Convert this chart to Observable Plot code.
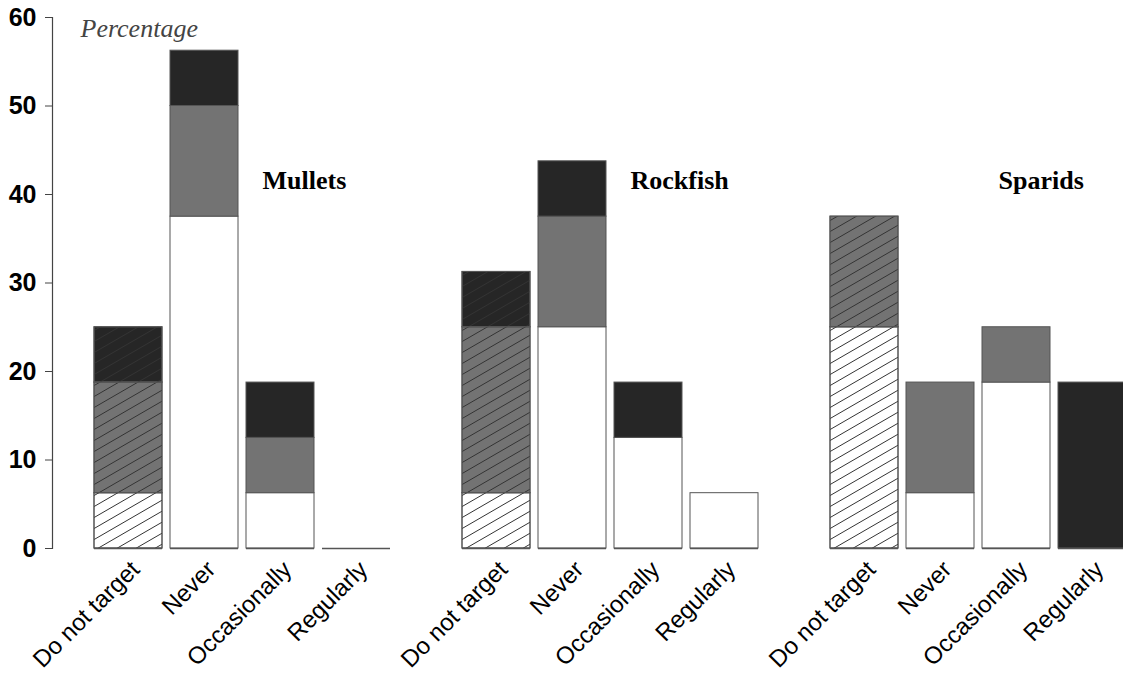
<!DOCTYPE html>
<html>
<head>
<meta charset="utf-8">
<script src="https://cdn.jsdelivr.net/npm/d3@7"></script>
<script src="https://cdn.jsdelivr.net/npm/@observablehq/plot@0.6"></script>
<style>
  html, body { margin: 0; padding: 0; background: #fff; overflow: hidden; }
</style>
</head>
<body>
<div id="chart"></div>
<script>
// ---- data (percentages) ----
const groups = ["Mullets", "Rockfish", "Sparids"];
const categories = ["Do not target", "Never", "Occasionally", "Regularly"];
const levels = ["White", "Grey", "Dark"];
const yTicks = [0, 10, 20, 30, 40, 50, 60];
const yLabel = "Percentage";

// segment sizes per category (Do not target, Never, Occasionally, Regularly)
const mulletsWhite  = [6.25, 37.5, 6.25, 0];
const mulletsGrey   = [12.5, 12.5, 6.25, 0];
const mulletsDark   = [6.25, 6.25, 6.25, 0];
const rockfishWhite = [6.25, 25, 12.5, 6.25];
const rockfishGrey  = [18.75, 12.5, 0, 0];
const rockfishDark  = [6.25, 6.25, 6.25, 0];
const sparidsWhite  = [25, 6.25, 18.75, 0];
const sparidsGrey   = [12.5, 12.5, 6.25, 0];
const sparidsDark   = [0, 0, 0, 18.75];

const levelColors = ["#ffffff", "#737373", "#262626"];

const series = [
  [mulletsWhite, mulletsGrey, mulletsDark],
  [rockfishWhite, rockfishGrey, rockfishDark],
  [sparidsWhite, sparidsGrey, sparidsDark]
];

const rows = [];
groups.forEach((g, gi) => categories.forEach((c, ci) => levels.forEach((lv, li) => {
  rows.push({group: g, category: c, level: lv, value: series[gi][li][ci]});
})));
const bars = [];
groups.forEach(g => categories.forEach(c => bars.push({group: g, category: c})));

const chart = Plot.plot({
  width: 1156,
  height: 684,
  marginTop: 17,
  marginBottom: 136,
  marginLeft: 52,
  marginRight: 0,
  style: {fontFamily: "'Liberation Sans', Arial, sans-serif", maxWidth: "none", background: "#fff", color: "#000"},
  fx: {domain: groups, padding: 0, axis: null},
  x: {domain: categories, paddingInner: 0.1, paddingOuter: 0.455, align: 0.59},
  y: {domain: [0, 60]},
  color: {domain: levels, range: levelColors},
  marks: [
    Plot.barY(rows, {fx: "group", x: "category", y: "value", fill: "level", stroke: "#555", strokeWidth: 1}),
    Plot.barY(rows.filter(d => d.category === categories[0]), {fx: "group", x: "category", y: "value", fill: "url(#hatch)", stroke: "#555", strokeWidth: 1}),
    Plot.tickY(bars, {fx: "group", x: "category", y: () => 0, stroke: "#555", strokeWidth: 1.5}),
    Plot.frame({anchor: "left", facetAnchor: "left", stroke: "#444", strokeWidth: 1.2}),
    Plot.axisY({ticks: yTicks, tickSize: 7, tickPadding: 9, fontSize: 25, fontWeight: "bold", label: null, stroke: "#444"}),
    Plot.axisX({tickRotate: -45, tickSize: 0, tickPadding: 14, fontSize: 24, label: null, dx: 7, dy: 3}),
    Plot.text(groups, {fx: d => d, text: d => d, frameAnchor: "top-left", dx: 210, dy: 153, textAnchor: "start",
      fontFamily: "'Liberation Serif', 'Times New Roman', serif", fontWeight: "bold", fontSize: 26}),
    Plot.text([yLabel], {fx: () => groups[0], text: d => d, frameAnchor: "top-left", dx: 28, dy: 1, textAnchor: "start",
      fontFamily: "'Liberation Serif', 'Times New Roman', serif", fontStyle: "italic", fontSize: 26, fill: "#444"})
  ]
});

// hatch pattern for "Do not target"
const svgNS = "http://www.w3.org/2000/svg";
const defs = document.createElementNS(svgNS, "defs");
defs.innerHTML = `<pattern id="hatch" patternUnits="userSpaceOnUse" width="19" height="11">
  <path d="M-1,11.58 L20,-0.58 M-20,11.58 L1,-0.58 M18,11.58 L39,-0.58" stroke="#333" stroke-width="1" fill="none"/>
</pattern>`;
chart.insertBefore(defs, chart.firstChild);

document.getElementById("chart").appendChild(chart);
</script>
</body>
</html>
